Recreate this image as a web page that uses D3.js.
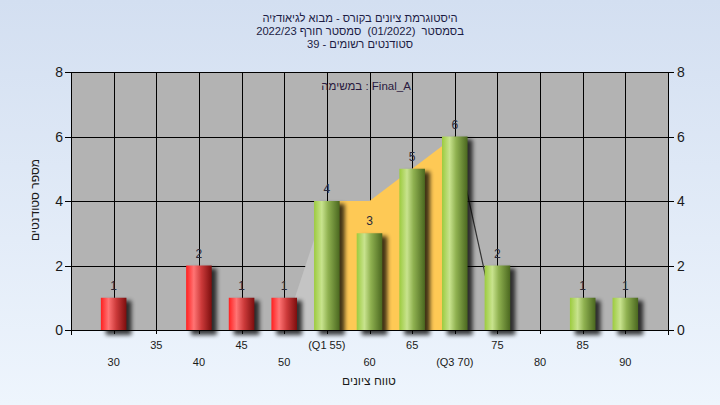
<!DOCTYPE html>
<html><head><meta charset="utf-8">
<script src="https://cdn.jsdelivr.net/npm/d3@7"></script>
<style>html,body{margin:0;padding:0;}svg{display:block;font-family:"Liberation Sans",Arial,sans-serif;}text{white-space:pre;}</style>
</head><body>
<svg id="c" width="720" height="405"></svg>
<script>
// ---- data ----
const grades = [30,35,40,45,50,55,60,65,70,75,80,85,90];
const counts = [1,0,2,1,1,4,3,5,6,2,0,1,1];
const tickLabels = ["30","35","40","45","50","(Q1 55)","60","65","(Q3 70)","75","80","85","90"];
const yTicks = [0,2,4,6,8];
const passGrade = 55;
const areaGrades = [50,55,60,65,70,75];
const areaValues = [0,4,4,5,6,0];
const q1 = 55, q3 = 70;
const titleLines = ["היסטוגרמת ציונים בקורס - מבוא לגיאודזיה","בסמסטר  (01/2022)  סמסטר חורף 2022/23","סטודנטים רשומים - 39"];
const taskLabel = "במשימה : Final_A";
const xTitle = "טווח ציונים";
const yTitle = "מספר סטודנטים";

const svg = d3.select("#c");
const L=71,R=668,T=72,B=330;
const x = d3.scaleLinear().domain([25,95]).range([L,R]);
const y = d3.scaleLinear().domain([0,8]).range([B,T]);
const barW = (x(30)-x(25))*0.6;

const defs = svg.append("defs");
const bg = defs.append("linearGradient").attr("id","bg").attr("x1",0).attr("y1",0).attr("x2",0).attr("y2",1);
bg.append("stop").attr("offset","0%").attr("stop-color","#d3dff1");
bg.append("stop").attr("offset","100%").attr("stop-color","#eef5fd");
function grad(id, stops){
  const g = defs.append("linearGradient").attr("id",id).attr("x1",0).attr("y1",0).attr("x2",1).attr("y2",0);
  stops.forEach(s=>g.append("stop").attr("offset",s[0]).attr("stop-color",s[1]));
}
grad("gGreen",[["0%","#9ccb3e"],["30%","#c8e38e"],["55%","#8fb150"],["100%","#4a671f"]]);
grad("gRed",[["0%","#ff1f1f"],["30%","#ff7474"],["60%","#cc3a3a"],["100%","#7c0e0e"]]);
const f = defs.append("filter").attr("id","blur").attr("x","-50%").attr("y","-20%").attr("width","200%").attr("height","140%");
f.append("feGaussianBlur").attr("stdDeviation",2.2);

svg.append("rect").attr("width",720).attr("height",405).attr("fill","url(#bg)");

// title
svg.append("g").selectAll("text").data(titleLines).join("text")
  .attr("x",360).attr("y",(d,i)=>22+i*13).attr("text-anchor","middle")
  .attr("direction","rtl").attr("unicode-bidi","embed")
  .attr("font-size",11.2).attr("fill","#1c1c44").text(d=>d);

// plot bg
svg.append("rect").attr("x",L).attr("y",T).attr("width",R-L).attr("height",B-T).attr("fill","#b3b3b3");

// grid
const grid = svg.append("g").attr("stroke","#000").attr("stroke-width",1).attr("shape-rendering","crispEdges");
grid.selectAll(".v").data(grades).join("line")
  .attr("x1",d=>Math.round(x(d))+0.5).attr("x2",d=>Math.round(x(d))+0.5).attr("y1",T).attr("y2",B);
grid.selectAll(".h").data(yTicks.filter(v=>v>0)).join("line")
  .attr("x1",L).attr("x2",R).attr("y1",d=>Math.round(y(d))+0.5).attr("y2",d=>Math.round(y(d))+0.5);

// area
const pts = areaGrades.map((g,i)=>[g,areaValues[i]]);
const area = d3.area().x(d=>x(d[0])).y0(y(0)).y1(d=>y(d[1]));
svg.append("path").datum(pts.filter(p=>p[0]<=q1)).attr("d",area).attr("fill","#c4c4c4");
svg.append("path").datum(pts.filter(p=>p[0]>=q1&&p[0]<=q3)).attr("d",area).attr("fill","#fec955");
svg.append("path").datum(pts.filter(p=>p[0]>=q3)).attr("d",d3.line().x(d=>x(d[0])).y(d=>y(d[1])))
  .attr("fill","none").attr("stroke","#333").attr("stroke-width",1.2);

// bars
const data = grades.map((g,i)=>({g,c:counts[i]})).filter(d=>d.c>0);
svg.append("g").selectAll("rect").data(data).join("rect")
  .attr("x",d=>x(d.g)-barW/2+5).attr("y",d=>y(d.c)+3).attr("width",barW).attr("height",d=>B-y(d.c)+2)
  .attr("fill","#000").attr("opacity",0.75).attr("filter","url(#blur)");
svg.append("g").selectAll("rect").data(data).join("rect")
  .attr("x",d=>x(d.g)-barW/2).attr("y",d=>y(d.c)).attr("width",barW).attr("height",d=>B-y(d.c))
  .attr("fill",d=>d.g<passGrade?"url(#gRed)":"url(#gGreen)");
svg.append("g").selectAll("text").data(data).join("text")
  .attr("x",d=>x(d.g)).attr("y",d=>y(d.c)-8).attr("text-anchor","middle")
  .attr("font-size",12).attr("fill","#2a2a3a").text(d=>d.c);

// axes lines
const ax = svg.append("g").attr("stroke","#000").attr("shape-rendering","crispEdges");
ax.append("line").attr("x1",L+0.5).attr("x2",L+0.5).attr("y1",T).attr("y2",B+5);
ax.append("line").attr("x1",R+0.5).attr("x2",R+0.5).attr("y1",T).attr("y2",B+5);
ax.append("line").attr("x1",L).attr("x2",R+6).attr("y1",B+0.5).attr("y2",B+0.5);
ax.append("line").attr("x1",L).attr("x2",R).attr("y1",T+0.5).attr("y2",T+0.5);
ax.selectAll(".lt").data(yTicks).join("line").attr("x1",L-6).attr("x2",L)
  .attr("y1",d=>Math.round(y(d))+0.5).attr("y2",d=>Math.round(y(d))+0.5);
ax.selectAll(".rt").data(yTicks).join("line").attr("x1",R).attr("x2",R+6)
  .attr("y1",d=>Math.round(y(d))+0.5).attr("y2",d=>Math.round(y(d))+0.5);
ax.selectAll(".bt").data(grades).join("line")
  .attr("x1",d=>Math.round(x(d))+0.5).attr("x2",d=>Math.round(x(d))+0.5).attr("y1",B).attr("y2",B+4);

svg.append("g").selectAll("text").data(yTicks).join("text")
  .attr("x",L-8).attr("y",d=>y(d)+5).attr("text-anchor","end").attr("font-size",14).attr("fill","#1a1a1a").text(d=>d);
svg.append("g").selectAll("text").data(yTicks).join("text")
  .attr("x",R+9).attr("y",d=>y(d)+5).attr("text-anchor","start").attr("font-size",14).attr("fill","#1a1a1a").text(d=>d);

svg.append("g").selectAll("text").data(grades).join("text")
  .attr("x",d=>x(d)).attr("y",(d,i)=>i%2===0?366:349).attr("text-anchor","middle")
  .attr("font-size",11).attr("fill","#1a1a1a").text((d,i)=>tickLabels[i]);

svg.append("text").attr("x",369).attr("y",385).attr("text-anchor","middle").attr("direction","rtl")
  .attr("font-size",12).attr("fill","#1a1a1a").text(xTitle);
svg.append("text").attr("transform","translate(39,200) rotate(-90)").attr("text-anchor","middle").attr("direction","rtl")
  .attr("font-size",12).attr("fill","#1a1a1a").text(yTitle);
svg.append("text").attr("x",366).attr("y",90).attr("text-anchor","middle")
  .attr("font-size",11.5).attr("fill","#2a1a40").text(taskLabel);
</script>
</body></html>
